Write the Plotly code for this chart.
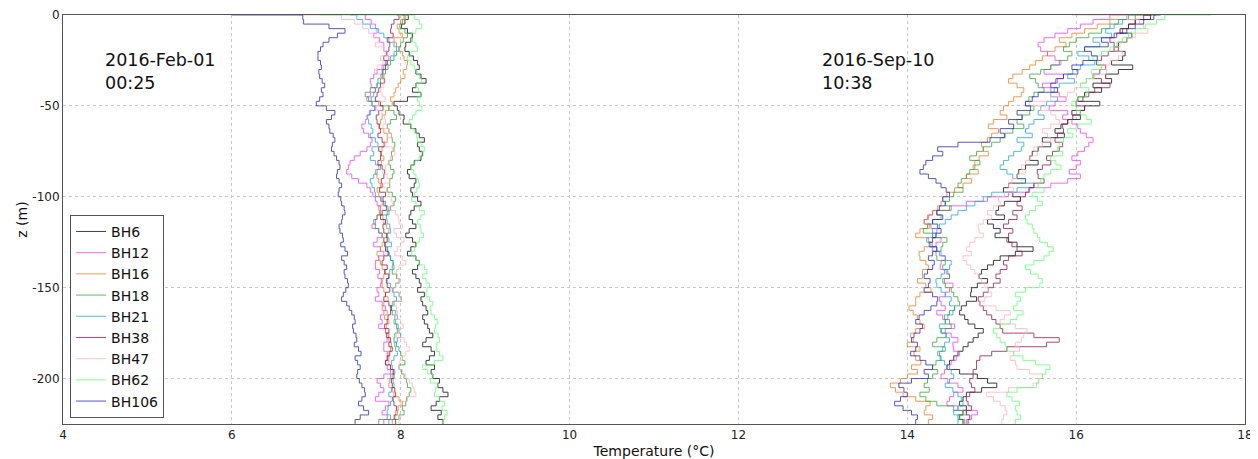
import plotly.graph_objects as go

# depth (m), 2.5 m spacing
depth = [-2.5 * i for i in range(91)]

names = ["BH6", "BH12", "BH16", "BH18", "BH21", "BH38", "BH47", "BH62", "BH106"]
colors = ["#000000", "#e83cf0", "#f07820", "#30a030", "#1e9ee0", "#8c1040", "#ffb0bc", "#5cff70", "#2020b0"]

# ---- 2016-Feb-01 00:25 ----
feb_bh6 = [8.02, 8.09, 8.05, 8.01, 8.08, 8.14, 8.12, 8.06, 8.05, 8.10, 8.15, 8.20, 8.22, 8.18, 8.24, 8.30,
           8.18, 8.14, 8.24, 8.08, 7.92, 7.96, 7.98, 8.04, 8.03, 8.12, 8.18, 8.22, 8.28, 8.20, 8.22, 8.26,
           8.24, 8.16, 8.12, 8.08, 8.10, 8.18, 8.16, 8.12, 8.14, 8.20, 8.24, 8.16, 8.12, 8.10, 8.14, 8.18,
           8.10, 8.06, 8.14, 8.18, 8.12, 8.08, 8.18, 8.22, 8.20, 8.14, 8.18, 8.22, 8.24, 8.20, 8.28, 8.24,
           8.26, 8.30, 8.32, 8.26, 8.28, 8.32, 8.34, 8.38, 8.30, 8.26, 8.36, 8.40, 8.34, 8.30, 8.40, 8.36,
           8.38, 8.46, 8.44, 8.50, 8.56, 8.46, 8.42, 8.36, 8.48, 8.44, 8.50]
feb_bh12 = [7.60, 7.58, 7.65, 7.70, 7.72, 7.68, 7.75, 7.80, 7.80, 7.84, 7.86, 7.82, 7.78, 7.72, 7.68, 7.64,
            7.65, 7.70, 7.64, 7.60, 7.66, 7.70, 7.63, 7.60, 7.58, 7.54, 7.56, 7.62, 7.66, 7.64, 7.60, 7.52,
            7.45, 7.40, 7.38, 7.36, 7.42, 7.50, 7.60, 7.64, 7.67, 7.70, 7.72, 7.76, 7.75, 7.72, 7.70, 7.66,
            7.74, 7.78, 7.72, 7.68, 7.76, 7.80, 7.74, 7.70, 7.70, 7.75, 7.73, 7.78, 7.76, 7.72, 7.74, 7.70,
            7.78, 7.82, 7.80, 7.76, 7.78, 7.74, 7.82, 7.86, 7.84, 7.80, 7.80, 7.84, 7.86, 7.82, 7.84, 7.88,
            7.80, 7.72, 7.76, 7.80, 7.74, 7.70, 7.86, 7.82, 7.78, 7.84, 7.80]
feb_bh16 = [8.02, 8.06, 8.00, 7.96, 7.98, 8.02, 7.92, 7.95, 7.98, 8.02, 8.04, 8.08, 8.07, 8.03, 8.05, 8.00,
            7.97, 7.94, 7.92, 7.88, 7.90, 7.86, 7.82, 7.78, 7.76, 7.74, 7.80, 7.84, 7.84, 7.80, 7.78, 7.76,
            7.80, 7.77, 7.74, 7.70, 7.72, 7.74, 7.76, 7.72, 7.74, 7.77, 7.78, 7.74, 7.76, 7.79, 7.80, 7.83,
            7.86, 7.84, 7.80, 7.78, 7.76, 7.72, 7.74, 7.76, 7.78, 7.82, 7.80, 7.77, 7.78, 7.80, 7.82, 7.85,
            7.80, 7.78, 7.84, 7.81, 7.86, 7.83, 7.82, 7.85, 7.86, 7.89, 7.88, 7.85, 7.84, 7.86, 7.88, 7.92,
            7.90, 7.87, 7.86, 7.90, 7.92, 7.98, 8.02, 7.97, 7.94, 7.92, 7.90]
feb_bh18 = [8.00, 8.04, 8.02, 7.99, 8.05, 8.08, 8.03, 8.00, 7.98, 7.95, 7.92, 7.88, 7.85, 7.82, 7.80, 7.76,
            7.72, 7.64, 7.58, 7.62, 7.74, 7.86, 7.92, 7.95, 7.88, 7.84, 7.86, 7.89, 7.90, 7.93, 7.92, 7.89,
            7.90, 7.86, 7.88, 7.92, 7.90, 7.87, 7.87, 7.84, 7.90, 7.94, 7.92, 7.88, 7.84, 7.72, 7.68, 7.70,
            7.74, 7.78, 7.80, 7.82, 7.84, 7.86, 7.88, 7.91, 7.92, 7.90, 7.95, 7.98, 7.94, 7.91, 7.98, 8.01,
            7.92, 7.88, 7.90, 7.93, 7.94, 7.97, 7.96, 7.93, 7.92, 7.95, 7.98, 8.00, 8.02, 8.05, 7.98, 8.01,
            8.04, 8.07, 8.08, 8.12, 8.10, 8.07, 8.06, 8.02, 8.04, 7.98, 7.74]
feb_bh21 = [7.40, 7.48, 7.55, 7.64, 7.74, 7.80, 7.86, 7.92, 7.95, 7.92, 7.88, 7.84, 7.80, 7.78, 7.76, 7.73,
            7.72, 7.70, 7.68, 7.65, 7.66, 7.69, 7.64, 7.61, 7.62, 7.65, 7.67, 7.64, 7.70, 7.73, 7.66, 7.68,
            7.64, 7.70, 7.76, 7.72, 7.68, 7.64, 7.66, 7.69, 7.70, 7.76, 7.82, 7.85, 7.86, 7.83, 7.84, 7.87,
            7.88, 7.84, 7.86, 7.89, 7.84, 7.86, 7.88, 7.91, 7.90, 7.87, 7.86, 7.84, 7.88, 7.90, 7.92, 7.95,
            7.90, 7.88, 7.94, 7.96, 7.92, 7.95, 7.98, 8.00, 7.96, 7.93, 7.94, 7.96, 7.92, 7.89, 7.90, 7.93,
            7.88, 7.91, 7.92, 7.89, 7.86, 7.90, 7.88, 7.85, 7.84, 7.88, 7.86]
feb_bh38 = [7.95, 7.98, 7.92, 7.89, 7.88, 7.91, 7.84, 7.87, 7.86, 7.83, 7.80, 7.84, 7.82, 7.79, 7.78, 7.81,
            7.76, 7.74, 7.72, 7.70, 7.76, 7.79, 7.74, 7.71, 7.72, 7.75, 7.76, 7.73, 7.78, 7.81, 7.74, 7.77,
            7.76, 7.73, 7.78, 7.81, 7.80, 7.77, 7.78, 7.75, 7.82, 7.79, 7.80, 7.83, 7.78, 7.76, 7.82, 7.79,
            7.80, 7.83, 7.84, 7.81, 7.82, 7.85, 7.80, 7.78, 7.84, 7.81, 7.86, 7.83, 7.84, 7.87, 7.82, 7.80,
            7.86, 7.89, 7.88, 7.85, 7.84, 7.81, 7.86, 7.83, 7.88, 7.86, 7.90, 7.87, 7.84, 7.82, 7.88, 7.91,
            7.92, 7.89, 7.90, 7.93, 7.94, 7.91, 7.92, 7.95, 7.96, 7.93, 7.94]
feb_bh47 = [6.80, 7.30, 7.45, 7.55, 7.62, 7.68, 7.74, 7.70, 7.80, 7.84, 7.76, 7.79, 7.72, 7.69, 7.76, 7.80,
            7.80, 7.76, 7.78, 7.82, 7.74, 7.71, 7.78, 7.81, 7.82, 7.79, 7.86, 7.89, 7.84, 7.81, 7.90, 7.93,
            7.88, 7.85, 7.82, 7.79, 7.84, 7.87, 7.80, 7.83, 7.86, 7.89, 7.90, 7.87, 7.94, 7.97, 7.98, 8.02,
            7.92, 7.95, 8.04, 8.00, 7.96, 7.93, 8.02, 8.06, 7.98, 7.95, 7.96, 7.99, 7.94, 7.91, 7.98, 8.01,
            7.92, 7.95, 7.96, 7.93, 8.00, 8.03, 7.98, 7.95, 8.04, 8.07, 8.10, 8.06, 8.02, 7.99, 7.98, 8.02,
            8.06, 8.10, 8.14, 8.16, 8.18, 8.08, 8.00, 7.97, 7.96, 8.00, 7.98]
feb_bh62 = [7.05, 8.16, 8.22, 8.25, 8.18, 8.13, 8.14, 8.18, 8.20, 8.12, 8.08, 8.12, 8.16, 8.19, 8.22, 8.25,
            8.18, 8.21, 8.24, 8.20, 8.22, 8.25, 8.18, 8.14, 8.10, 8.13, 8.16, 8.19, 8.20, 8.24, 8.28, 8.25,
            8.22, 8.17, 8.12, 8.15, 8.18, 8.21, 8.22, 8.19, 8.16, 8.13, 8.18, 8.22, 8.28, 8.24, 8.20, 8.23,
            8.24, 8.27, 8.22, 8.19, 8.16, 8.13, 8.18, 8.22, 8.28, 8.31, 8.26, 8.30, 8.34, 8.31, 8.30, 8.34,
            8.38, 8.35, 8.36, 8.40, 8.44, 8.41, 8.40, 8.44, 8.46, 8.43, 8.42, 8.46, 8.50, 8.40, 8.26, 8.32,
            8.38, 8.35, 8.44, 8.41, 8.40, 8.46, 8.52, 8.49, 8.55, 8.52, 8.50]
feb_bh106 = [6.00, 6.84, 6.85, 7.15, 7.34, 7.25, 7.15, 7.08, 7.05, 7.02, 7.02, 7.05, 7.06, 7.03, 7.04, 7.07,
             7.10, 7.06, 7.08, 7.04, 7.00, 7.12, 7.22, 7.18, 7.12, 7.15, 7.16, 7.20, 7.22, 7.19, 7.18, 7.21,
             7.24, 7.27, 7.28, 7.25, 7.24, 7.27, 7.30, 7.27, 7.26, 7.29, 7.30, 7.33, 7.34, 7.31, 7.30, 7.27,
             7.28, 7.31, 7.32, 7.29, 7.34, 7.37, 7.30, 7.33, 7.36, 7.33, 7.34, 7.37, 7.38, 7.35, 7.32, 7.30,
             7.36, 7.39, 7.42, 7.45, 7.46, 7.43, 7.44, 7.47, 7.48, 7.45, 7.50, 7.53, 7.46, 7.49, 7.52, 7.49,
             7.48, 7.51, 7.54, 7.57, 7.58, 7.54, 7.50, 7.56, 7.62, 7.52, 7.46]

# ---- 2016-Sep-10 10:38 ----
sep_bh6 = [16.80, 16.88, 16.70, 16.62, 16.52, 16.66, 16.60, 16.50, 16.45, 16.58, 16.55, 16.42, 16.67, 16.50,
           16.35, 16.42, 16.20, 16.30, 16.10, 16.02, 16.28, 16.10, 15.95, 16.05, 15.90, 15.82, 15.75, 15.86,
           15.60, 15.70, 15.55, 15.48, 15.45, 15.55, 15.40, 15.32, 15.30, 15.40, 15.20, 15.14, 15.25, 15.34,
           15.15, 15.08, 15.05, 15.15, 14.95, 15.02, 15.10, 15.04, 15.20, 15.30, 15.49, 15.28, 15.10, 15.02,
           14.95, 14.88, 14.85, 14.95, 14.83, 14.76, 14.75, 14.82, 14.70, 14.64, 14.62, 14.68, 14.72, 14.80,
           14.90, 14.84, 14.78, 14.72, 14.66, 14.60, 14.55, 14.50, 14.47, 14.62, 14.83, 14.95, 15.06, 14.88,
           14.70, 14.66, 14.62, 14.70, 14.66, 14.62, 14.66]
sep_bh12 = [16.60, 16.40, 16.20, 16.05, 15.90, 15.75, 15.62, 15.55, 15.58, 15.66, 15.75, 15.82, 15.70, 15.62,
            15.85, 15.78, 15.60, 15.70, 15.80, 15.88, 15.75, 15.68, 15.90, 15.84, 15.95, 16.02, 16.05, 16.12,
            16.20, 16.15, 16.10, 16.02, 15.95, 16.05, 16.00, 15.92, 16.05, 15.90, 15.70, 15.45, 15.20, 14.95,
            14.70, 14.50, 14.30, 14.25, 14.20, 14.28, 14.35, 14.30, 14.40, 14.34, 14.30, 14.38, 14.45, 14.40,
            14.39, 14.46, 14.50, 14.44, 14.54, 14.50, 14.45, 14.38, 14.40, 14.45, 14.35, 14.42, 14.50, 14.56,
            14.45, 14.52, 14.60, 14.54, 14.55, 14.62, 14.58, 14.52, 14.50, 14.44, 14.40, 14.48, 14.60, 14.66,
            14.55, 14.50, 14.47, 14.60, 14.83, 14.76, 14.70]
sep_bh16 = [16.85, 16.60, 16.40, 16.25, 16.10, 15.95, 15.80, 15.88, 15.75, 15.66, 15.60, 15.52, 15.45, 15.36,
            15.25, 15.20, 15.30, 15.38, 15.35, 15.26, 15.20, 15.14, 15.10, 15.18, 15.02, 14.96, 15.08, 15.00,
            14.95, 14.88, 14.90, 14.96, 14.85, 14.80, 14.78, 14.84, 14.70, 14.76, 14.66, 14.56, 14.47, 14.42,
            14.40, 14.36, 14.30, 14.24, 14.20, 14.26, 14.15, 14.10, 14.25, 14.30, 14.20, 14.14, 14.15, 14.22,
            14.25, 14.18, 14.18, 14.12, 14.22, 14.28, 14.15, 14.10, 14.10, 14.02, 14.07, 14.12, 14.15, 14.20,
            14.10, 14.04, 14.07, 14.00, 14.15, 14.08, 14.10, 14.16, 14.05, 14.12, 14.00, 13.92, 13.80, 13.86,
            13.95, 14.10, 14.27, 14.22, 14.20, 14.30, 14.25]
sep_bh18 = [16.95, 16.70, 16.50, 16.40, 16.30, 16.15, 16.00, 15.92, 15.85, 15.95, 15.90, 15.80, 15.70, 15.58,
            15.45, 15.52, 15.55, 15.62, 15.50, 15.44, 15.40, 15.50, 15.45, 15.36, 15.30, 15.38, 15.25, 15.16,
            15.10, 15.00, 14.90, 14.82, 14.74, 14.86, 14.80, 14.74, 14.70, 14.64, 14.60, 14.66, 14.55, 14.50,
            14.45, 14.52, 14.35, 14.40, 14.30, 14.24, 14.19, 14.30, 14.47, 14.42, 14.40, 14.34, 14.35, 14.45,
            14.42, 14.48, 14.50, 14.42, 14.45, 14.52, 14.55, 14.60, 14.62, 14.56, 14.50, 14.44, 14.45, 14.52,
            14.40, 14.46, 14.35, 14.30, 14.45, 14.38, 14.40, 14.34, 14.30, 14.36, 14.30, 14.24, 14.20, 14.26,
            14.15, 14.22, 14.35, 14.55, 14.70, 14.60, 14.68]
sep_bh21 = [16.70, 16.62, 16.55, 16.45, 16.35, 16.42, 16.20, 16.28, 16.10, 16.02, 16.15, 16.22, 16.05, 15.96,
            15.90, 15.98, 15.80, 15.74, 15.70, 15.78, 15.65, 15.58, 15.55, 15.62, 15.50, 15.44, 15.40, 15.48,
            15.30, 15.38, 15.35, 15.26, 15.20, 15.14, 15.10, 15.18, 15.25, 15.40, 15.50, 15.30, 15.00, 14.90,
            14.80, 14.70, 14.60, 14.52, 14.45, 14.38, 14.30, 14.34, 14.23, 14.28, 14.35, 14.40, 14.45, 14.52,
            14.50, 14.44, 14.40, 14.34, 14.35, 14.40, 14.45, 14.52, 14.50, 14.56, 14.54, 14.48, 14.45, 14.38,
            14.40, 14.46, 14.50, 14.44, 14.42, 14.36, 14.39, 14.44, 14.47, 14.52, 14.55, 14.50, 14.45, 14.54,
            14.60, 14.64, 14.66, 14.60, 14.55, 14.62, 14.60]
sep_bh38 = [16.90, 16.80, 16.70, 16.62, 16.55, 16.48, 16.40, 16.45, 16.50, 16.38, 16.30, 16.24, 16.35, 16.28,
            16.20, 16.30, 16.40, 16.22, 16.15, 16.08, 16.00, 16.10, 16.05, 15.96, 15.90, 15.84, 15.85, 15.78,
            15.75, 15.84, 15.80, 15.72, 15.65, 15.70, 15.60, 15.54, 15.55, 15.62, 15.50, 15.44, 15.40, 15.34,
            15.30, 15.36, 15.25, 15.30, 15.20, 15.14, 15.25, 15.20, 15.18, 15.24, 15.30, 15.36, 15.20, 15.14,
            15.18, 15.10, 15.05, 15.10, 15.02, 14.96, 14.90, 14.84, 14.86, 14.90, 14.94, 15.00, 15.05, 15.10,
            15.13, 15.50, 15.80, 15.65, 15.18, 15.00, 14.86, 14.82, 14.82, 14.78, 14.78, 14.74, 14.76, 14.80,
            14.74, 14.70, 14.72, 14.76, 14.70, 14.74, 14.72]
sep_bh47 = [15.95, 16.60, 16.75, 16.80, 16.85, 16.70, 16.60, 16.52, 16.45, 16.55, 16.50, 16.40, 16.30, 16.36,
            16.20, 16.12, 16.05, 15.98, 15.90, 15.70, 15.45, 15.58, 15.70, 15.76, 15.80, 15.70, 15.60, 15.66,
            15.70, 15.60, 15.50, 15.54, 15.45, 15.40, 15.35, 15.40, 15.30, 15.24, 15.20, 15.26, 15.15, 15.08,
            15.10, 15.02, 14.95, 15.00, 14.90, 14.84, 14.85, 14.90, 14.80, 14.74, 14.70, 14.76, 14.66, 14.70,
            14.75, 14.80, 14.85, 14.88, 14.92, 14.96, 15.00, 14.92, 14.86, 15.05, 15.22, 15.15, 15.10, 15.28,
            15.42, 15.38, 15.35, 15.28, 15.33, 15.26, 15.22, 15.28, 15.30, 15.45, 15.60, 15.55, 15.49, 15.20,
            14.94, 15.02, 15.10, 15.16, 15.18, 15.14, 15.12]
sep_bh62 = [17.60, 17.05, 16.95, 16.82, 16.70, 16.62, 16.55, 16.48, 16.40, 16.30, 16.20, 16.26, 16.30, 16.18,
            16.22, 16.12, 16.05, 16.15, 16.12, 16.02, 15.95, 16.00, 16.05, 16.12, 16.18, 16.00, 15.90, 15.96,
            15.85, 15.80, 15.78, 15.84, 15.70, 15.76, 15.82, 15.70, 15.62, 15.58, 15.55, 15.62, 15.48, 15.54,
            15.60, 15.52, 15.45, 15.40, 15.42, 15.48, 15.50, 15.54, 15.57, 15.66, 15.73, 15.68, 15.62, 15.50,
            15.40, 15.46, 15.55, 15.60, 15.57, 15.40, 15.28, 15.34, 15.30, 15.26, 15.37, 15.30, 15.22, 15.10,
            15.02, 15.06, 15.10, 15.16, 15.18, 15.26, 15.37, 15.52, 15.69, 15.64, 15.60, 15.56, 15.53, 15.30,
            15.18, 15.24, 15.33, 15.28, 15.30, 15.34, 15.28]
sep_bh106 = [17.00, 16.92, 16.80, 16.70, 16.60, 16.45, 16.30, 16.38, 16.10, 16.18, 16.25, 16.08, 15.95, 16.02,
             15.85, 15.76, 15.70, 15.78, 15.55, 15.48, 15.40, 15.46, 15.30, 15.36, 15.20, 15.26, 15.10, 15.15,
             14.98, 14.60, 14.36, 14.42, 14.30, 14.22, 14.19, 14.15, 14.25, 14.34, 14.40, 14.46, 14.50, 14.42,
             14.45, 14.38, 14.35, 14.42, 14.30, 14.36, 14.40, 14.34, 14.30, 14.26, 14.35, 14.30, 14.25, 14.32,
             14.30, 14.24, 14.20, 14.27, 14.25, 14.20, 14.30, 14.36, 14.35, 14.28, 14.20, 14.14, 14.10, 14.18,
             14.15, 14.08, 14.05, 14.12, 14.10, 14.04, 14.15, 14.22, 14.30, 14.20, 14.25, 14.05, 13.90, 13.96,
             14.00, 13.92, 13.85, 13.95, 14.05, 14.12, 14.10]

feb_series = [feb_bh6, feb_bh12, feb_bh16, feb_bh18, feb_bh21, feb_bh38, feb_bh47, feb_bh62, feb_bh106]
sep_series = [sep_bh6, sep_bh12, sep_bh16, sep_bh18, sep_bh21, sep_bh38, sep_bh47, sep_bh62, sep_bh106]

x_ticks = [4, 6, 8, 10, 12, 14, 16, 18]
y_ticks = [0, -50, -100, -150, -200]
y_tick_text = ["0", "-50", "-100", "-150", "-200"]

fig = go.Figure()
for name, col, fv, sv in zip(names, colors, feb_series, sep_series):
    fig.add_trace(go.Scatter(x=fv, y=depth[:len(fv)], mode="lines", name=name, legendgroup=name,
                             line=dict(color=col, width=1, shape="hv"), opacity=0.75))
    fig.add_trace(go.Scatter(x=sv, y=depth[:len(sv)], mode="lines", name=name, legendgroup=name,
                             showlegend=False, line=dict(color=col, width=1, shape="hv"), opacity=0.75))

fig.add_annotation(x=4.47, y=-18, xref="x", yref="y", text="2016-Feb-01<br>00:25", showarrow=False,
                   xanchor="left", yanchor="top", align="left",
                   font=dict(family="DejaVu Sans", size=17.5, color="#111"))
fig.add_annotation(x=12.97, y=-18, xref="x", yref="y", text="2016-Sep-10<br>10:38", showarrow=False,
                   xanchor="left", yanchor="top", align="left",
                   font=dict(family="DejaVu Sans", size=17.5, color="#111"))

axis_common = dict(showline=True, linecolor="#555", linewidth=1, mirror=True, showgrid=True,
                   gridcolor="#c8c8c8", griddash="dot", gridwidth=1, zeroline=False, ticks="",
                   automargin=False, layer="below traces",
                   tickfont=dict(family="DejaVu Sans", size=12, color="#222"))

fig.update_layout(
    width=1250, height=451,
    margin=dict(l=55, r=13, t=7, b=35),
    paper_bgcolor="white", plot_bgcolor="white",
    font=dict(family="DejaVu Sans", color="#111"),
    xaxis=dict(range=[4, 18], tickvals=x_ticks, title=dict(text="Temperature (°C)", standoff=5,
               font=dict(family="DejaVu Sans", size=14, color="#111")), **axis_common),
    yaxis=dict(range=[-225, 0], tickvals=y_ticks, ticktext=y_tick_text,
               title=dict(text="z (m)", standoff=1,
                          font=dict(family="DejaVu Sans", size=14, color="#111")), **axis_common),
    legend=dict(x=0.006, y=0.015, xanchor="left", yanchor="bottom", bgcolor="white",
                bordercolor="#555", borderwidth=1, font=dict(family="DejaVu Sans", size=14, color="#111"),
                itemwidth=30, tracegroupgap=0),
    showlegend=True,
)

fig.write_html("out.html")
